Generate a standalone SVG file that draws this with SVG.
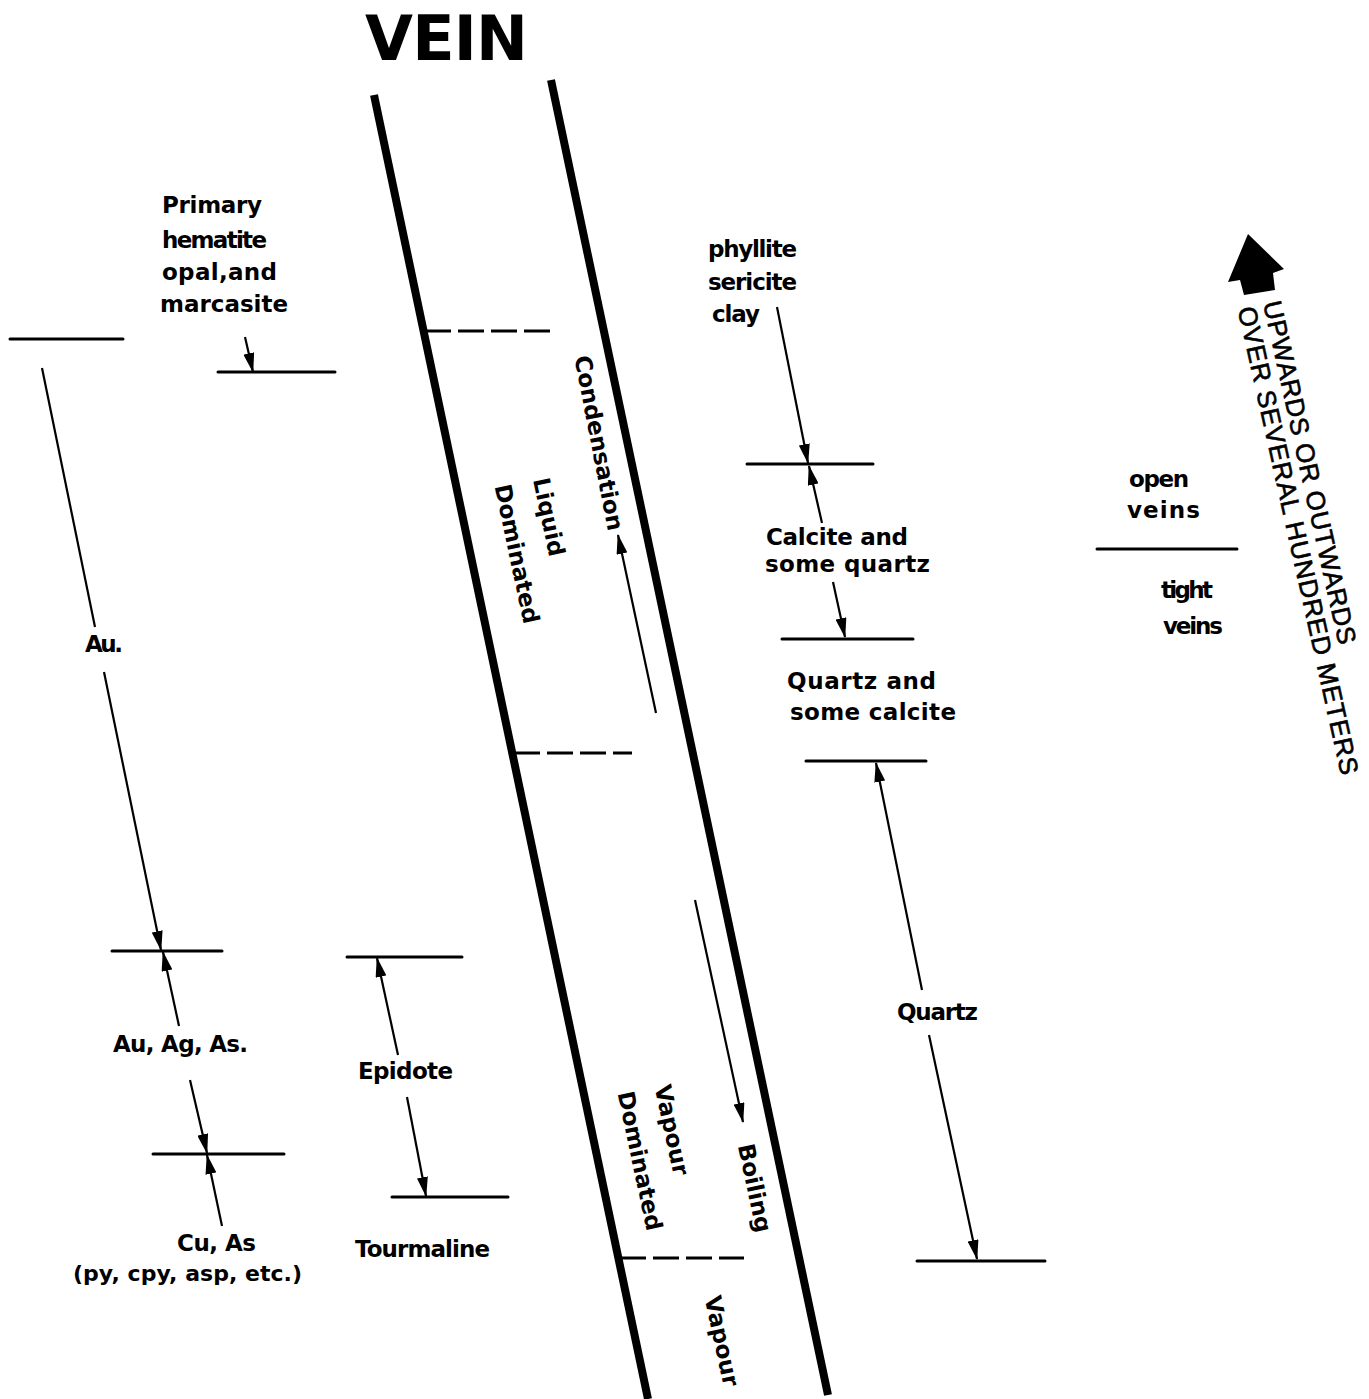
<svg xmlns="http://www.w3.org/2000/svg" width="1369" height="1399" viewBox="0 0 1369 1399">
<style>
.t{font-family:"DejaVu Sans",sans-serif;font-weight:bold;font-size:23px;fill:#000}
.big{font-size:62px}
.sm{font-size:22px}
.c{text-anchor:middle;dominant-baseline:central}
.up{font-family:"Liberation Sans",Arial,sans-serif;font-size:26px;fill:#000;stroke:#000;stroke-width:0.6}
.h{stroke:#000;stroke-width:3;stroke-linecap:round}
.d{stroke:#000;stroke-width:3;stroke-dasharray:26 7}
.a{stroke:#000;stroke-width:2.2;fill:none;marker-end:url(#ah)}
.l{stroke:#000;stroke-width:2.2;fill:none}
.v{stroke:#000;stroke-width:8;stroke-linecap:butt}
</style>
<defs>
<marker id="ah" markerUnits="userSpaceOnUse" markerWidth="20" markerHeight="11" refX="19" refY="5.5" orient="auto">
<path d="M0,0 L20,5.5 L0,11 z" fill="#000"/>
</marker>
</defs>
<rect width="1369" height="1399" fill="#fff"/>

<g id="title"><text class="t big" x="365" y="60" textLength="163">VEIN</text></g>

<g id="vein">
<line class="v" x1="374" y1="95" x2="648" y2="1399"/>
<line class="v" x1="551" y1="80" x2="828" y2="1395"/>
<line class="d" x1="425" y1="331" x2="550" y2="331"/>
<line class="d" x1="514" y1="753" x2="632" y2="753"/>
<line class="d" x1="620" y1="1258" x2="744" y2="1258"/>
</g>

<g id="vein-labels">
<text class="t c" x="599" y="443" transform="rotate(79 599 443)">Condensation</text>
<text class="t c" x="549" y="517" transform="rotate(78 549 517)">Liquid</text>
<text class="t c" x="517" y="554" transform="rotate(78 517 554)">Dominated</text>
<text class="t c" x="672" y="1130" transform="rotate(78 672 1130)">Vapour</text>
<text class="t c" x="640" y="1161" transform="rotate(78 640 1161)">Dominated</text>
<text class="t c" x="755" y="1188" transform="rotate(78 755 1188)">Boiling</text>
<text class="t c" x="722" y="1341" transform="rotate(78 722 1341)">Vapour</text>
</g>

<g id="levels">
<line class="h" x1="10" y1="339" x2="123" y2="339"/>
<line class="h" x1="218" y1="372" x2="335" y2="372"/>
<line class="h" x1="112" y1="951" x2="222" y2="951"/>
<line class="h" x1="153" y1="1154" x2="284" y2="1154"/>
<line class="h" x1="347" y1="957" x2="462" y2="957"/>
<line class="h" x1="392" y1="1197" x2="508" y2="1197"/>
<line class="h" x1="747" y1="464" x2="873" y2="464"/>
<line class="h" x1="782" y1="639" x2="913" y2="639"/>
<line class="h" x1="806" y1="761" x2="926" y2="761"/>
<line class="h" x1="917" y1="1261" x2="1045" y2="1261"/>
<line class="h" x1="1097" y1="549" x2="1237" y2="549"/>
</g>

<g id="connectors">
<line class="a" x1="245" y1="337" x2="253" y2="372"/>
<line class="l" x1="42" y1="368" x2="95" y2="627"/>
<line class="a" x1="104" y1="672" x2="161" y2="950"/>
<line class="a" x1="179" y1="1026" x2="163" y2="952"/>
<line class="a" x1="190" y1="1080" x2="207" y2="1153"/>
<line class="a" x1="222" y1="1226" x2="207" y2="1155"/>
<line class="a" x1="398" y1="1055" x2="377" y2="958"/>
<line class="a" x1="407" y1="1097" x2="426" y2="1196"/>
<line class="a" x1="777" y1="307" x2="808" y2="463"/>
<line class="a" x1="822" y1="523" x2="809" y2="466"/>
<line class="a" x1="833" y1="582" x2="845" y2="637"/>
<line class="a" x1="922" y1="990" x2="876" y2="763"/>
<line class="a" x1="929" y1="1035" x2="977" y2="1259"/>
<line class="a" x1="656" y1="713" x2="618" y2="535"/>
<line class="a" x1="695" y1="900" x2="743" y2="1122"/>
</g>

<g id="primary">
<text class="t" x="162" y="213" textLength="100">Primary</text>
<text class="t" x="162" y="248" textLength="105">hematite</text>
<text class="t" x="162" y="280" textLength="115">opal,and</text>
<text class="t" x="160" y="312" textLength="128">marcasite</text>
</g>
<g id="au"><text class="t" x="85" y="652" textLength="38">Au.</text></g>
<g id="auagas"><text class="t" x="113" y="1052" textLength="135">Au, Ag, As.</text></g>
<g id="cuas">
<text class="t" x="177" y="1251" textLength="79">Cu, As</text>
<text class="t sm" x="73" y="1281" textLength="229">(py, cpy, asp, etc.)</text>
</g>
<g id="epidote"><text class="t" x="358" y="1079" textLength="95">Epidote</text></g>
<g id="tourmaline"><text class="t" x="355" y="1257" textLength="135">Tourmaline</text></g>
<g id="phyllite">
<text class="t" x="708" y="257" textLength="89">phyllite</text>
<text class="t" x="708" y="290" textLength="89">sericite</text>
<text class="t" x="712" y="322" textLength="48">clay</text>
</g>
<g id="calcite">
<text class="t" x="766" y="545" textLength="142">Calcite and</text>
<text class="t" x="765" y="572" textLength="165">some quartz</text>
</g>
<g id="quartzcalcite">
<text class="t" x="787" y="689" textLength="149">Quartz and</text>
<text class="t" x="790" y="720" textLength="166">some calcite</text>
</g>
<g id="quartz"><text class="t" x="897" y="1020" textLength="81">Quartz</text></g>
<g id="openveins">
<text class="t" x="1129" y="487" textLength="60">open</text>
<text class="t" x="1127" y="518" textLength="73">veins</text>
</g>
<g id="tightveins">
<text class="t" x="1161" y="598" textLength="52">tight</text>
<text class="t" x="1163" y="634" textLength="60">veins</text>
</g>

<g id="direction">
<polygon points="1248,234 1284,269 1273,273 1275,290 1244,295 1240,280 1228,282" fill="#000"/>
<g transform="translate(1263,303) rotate(77.5)">
<text class="up" x="0" y="0" textLength="351">UPWARDS OR OUTWARDS</text>
<text class="up" x="0" y="26" textLength="479">OVER SEVERAL HUNDRED  METERS</text>
</g>
</g>
</svg>
